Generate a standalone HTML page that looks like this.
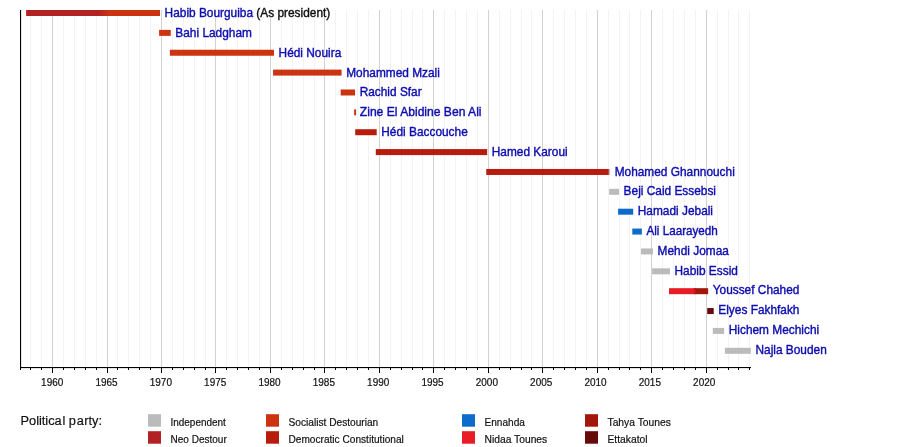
<!DOCTYPE html>
<html><head><meta charset="utf-8"><title>Timeline</title>
<style>
html,body{margin:0;padding:0;background:#fff;}
svg{display:block}
text{font-family:"Liberation Sans",sans-serif;}
.lbl{font-size:12.5px;fill:#0c0cb0;stroke:#0c0cb0;stroke-width:0.4px;}
.note{fill:#111;stroke:#111;}
.ax{font-size:10.6px;fill:#111;stroke:#111;stroke-width:0.2px;text-anchor:middle;}
.lg{font-size:11px;fill:#111;stroke:#111;stroke-width:0.2px;}
.ttl{font-size:13.3px;fill:#111;stroke:#111;stroke-width:0.2px;}
</style></head><body>
<svg width="900" height="447" viewBox="0 0 900 447">
<rect width="900" height="447" fill="#fff"/>
<g><rect x="30" y="10" width="1" height="357" fill="#f3f3f3"/>
<rect x="41" y="10" width="1" height="357" fill="#f3f3f3"/>
<rect x="52" y="10" width="1" height="357" fill="#d2d2d2"/>
<rect x="63" y="10" width="1" height="357" fill="#f3f3f3"/>
<rect x="74" y="10" width="1" height="357" fill="#f3f3f3"/>
<rect x="85" y="10" width="1" height="357" fill="#f3f3f3"/>
<rect x="96" y="10" width="1" height="357" fill="#f3f3f3"/>
<rect x="107" y="10" width="1" height="357" fill="#d2d2d2"/>
<rect x="117" y="10" width="1" height="357" fill="#f3f3f3"/>
<rect x="128" y="10" width="1" height="357" fill="#f3f3f3"/>
<rect x="139" y="10" width="1" height="357" fill="#f3f3f3"/>
<rect x="150" y="10" width="1" height="357" fill="#f3f3f3"/>
<rect x="161" y="10" width="1" height="357" fill="#d2d2d2"/>
<rect x="172" y="10" width="1" height="357" fill="#f3f3f3"/>
<rect x="183" y="10" width="1" height="357" fill="#f3f3f3"/>
<rect x="194" y="10" width="1" height="357" fill="#f3f3f3"/>
<rect x="205" y="10" width="1" height="357" fill="#f3f3f3"/>
<rect x="215" y="10" width="1" height="357" fill="#d2d2d2"/>
<rect x="226" y="10" width="1" height="357" fill="#f3f3f3"/>
<rect x="237" y="10" width="1" height="357" fill="#f3f3f3"/>
<rect x="248" y="10" width="1" height="357" fill="#f3f3f3"/>
<rect x="259" y="10" width="1" height="357" fill="#f3f3f3"/>
<rect x="270" y="10" width="1" height="357" fill="#d2d2d2"/>
<rect x="281" y="10" width="1" height="357" fill="#f3f3f3"/>
<rect x="292" y="10" width="1" height="357" fill="#f3f3f3"/>
<rect x="303" y="10" width="1" height="357" fill="#f3f3f3"/>
<rect x="314" y="10" width="1" height="357" fill="#f3f3f3"/>
<rect x="324" y="10" width="1" height="357" fill="#d2d2d2"/>
<rect x="335" y="10" width="1" height="357" fill="#f3f3f3"/>
<rect x="346" y="10" width="1" height="357" fill="#f3f3f3"/>
<rect x="357" y="10" width="1" height="357" fill="#f3f3f3"/>
<rect x="368" y="10" width="1" height="357" fill="#f3f3f3"/>
<rect x="379" y="10" width="1" height="357" fill="#d2d2d2"/>
<rect x="390" y="10" width="1" height="357" fill="#f3f3f3"/>
<rect x="401" y="10" width="1" height="357" fill="#f3f3f3"/>
<rect x="412" y="10" width="1" height="357" fill="#f3f3f3"/>
<rect x="422" y="10" width="1" height="357" fill="#f3f3f3"/>
<rect x="433" y="10" width="1" height="357" fill="#d2d2d2"/>
<rect x="444" y="10" width="1" height="357" fill="#f3f3f3"/>
<rect x="455" y="10" width="1" height="357" fill="#f3f3f3"/>
<rect x="466" y="10" width="1" height="357" fill="#f3f3f3"/>
<rect x="477" y="10" width="1" height="357" fill="#f3f3f3"/>
<rect x="488" y="10" width="1" height="357" fill="#d2d2d2"/>
<rect x="499" y="10" width="1" height="357" fill="#f3f3f3"/>
<rect x="510" y="10" width="1" height="357" fill="#f3f3f3"/>
<rect x="521" y="10" width="1" height="357" fill="#f3f3f3"/>
<rect x="531" y="10" width="1" height="357" fill="#f3f3f3"/>
<rect x="542" y="10" width="1" height="357" fill="#d2d2d2"/>
<rect x="553" y="10" width="1" height="357" fill="#f3f3f3"/>
<rect x="564" y="10" width="1" height="357" fill="#f3f3f3"/>
<rect x="575" y="10" width="1" height="357" fill="#f3f3f3"/>
<rect x="586" y="10" width="1" height="357" fill="#f3f3f3"/>
<rect x="597" y="10" width="1" height="357" fill="#d2d2d2"/>
<rect x="608" y="10" width="1" height="357" fill="#f3f3f3"/>
<rect x="619" y="10" width="1" height="357" fill="#f3f3f3"/>
<rect x="629" y="10" width="1" height="357" fill="#f3f3f3"/>
<rect x="640" y="10" width="1" height="357" fill="#f3f3f3"/>
<rect x="651" y="10" width="1" height="357" fill="#d2d2d2"/>
<rect x="662" y="10" width="1" height="357" fill="#f3f3f3"/>
<rect x="673" y="10" width="1" height="357" fill="#f3f3f3"/>
<rect x="684" y="10" width="1" height="357" fill="#f3f3f3"/>
<rect x="695" y="10" width="1" height="357" fill="#f3f3f3"/>
<rect x="706" y="10" width="1" height="357" fill="#d2d2d2"/>
<rect x="717" y="10" width="1" height="357" fill="#f3f3f3"/>
<rect x="728" y="10" width="1" height="357" fill="#f3f3f3"/>
<rect x="738" y="10" width="1" height="357" fill="#f3f3f3"/>
<rect x="749" y="10" width="1" height="357" fill="#f3f3f3"/></g>
<rect x="26.12" y="10.00" width="78.93" height="6.0" fill="#b22222"/>
<rect x="105.05" y="10.00" width="54.95" height="6.0" fill="#cc3311"/>
<text class="lbl" transform="translate(164.60,17.25) scale(0.95,1)">Habib Bourguiba<tspan class="note"> (As president)</tspan></text>
<rect x="159.10" y="29.87" width="11.65" height="6.0" fill="#cc3311"/>
<text class="lbl" transform="translate(175.35,37.05) scale(0.95,1)">Bahi Ladgham</text>
<rect x="169.85" y="49.74" width="104.11" height="6.0" fill="#cc3311"/>
<text class="lbl" transform="translate(278.56,56.85) scale(0.95,1)">Hédi Nouira</text>
<rect x="273.06" y="69.61" width="68.52" height="6.0" fill="#cc3311"/>
<text class="lbl" transform="translate(346.18,76.65) scale(0.95,1)">Mohammed Mzali</text>
<rect x="340.68" y="89.48" width="14.36" height="6.0" fill="#cc3311"/>
<text class="lbl" transform="translate(359.64,96.45) scale(0.95,1)">Rachid Sfar</text>
<rect x="354.14" y="109.35" width="1.97" height="6.0" fill="#cc3311"/>
<text class="lbl" transform="translate(359.82,116.25) scale(0.968,1)">Zine El Abidine Ben Ali</text>
<rect x="355.22" y="129.22" width="21.47" height="6.0" fill="#b81c0c"/>
<text class="lbl" transform="translate(381.29,136.05) scale(0.95,1)">Hédi Baccouche</text>
<rect x="375.79" y="149.09" width="111.38" height="6.0" fill="#b81c0c"/>
<text class="lbl" transform="translate(491.76,155.85) scale(0.95,1)">Hamed Karoui</text>
<rect x="486.26" y="168.96" width="122.60" height="6.0" fill="#b81c0c"/>
<rect x="608.87" y="168.96" width="1.19" height="6.0" fill="#bbbbbb"/>
<text class="lbl" transform="translate(614.66,175.65) scale(0.95,1)">Mohamed Ghannouchi</text>
<rect x="609.16" y="188.83" width="9.86" height="6.0" fill="#bbbbbb"/>
<text class="lbl" transform="translate(623.61,195.45) scale(0.95,1)">Beji Caid Essebsi</text>
<rect x="618.11" y="208.70" width="15.08" height="6.0" fill="#0d6bcc"/>
<text class="lbl" transform="translate(637.79,215.25) scale(0.95,1)">Hamadi Jebali</text>
<rect x="632.29" y="228.57" width="9.59" height="6.0" fill="#0d6bcc"/>
<text class="lbl" transform="translate(646.48,235.05) scale(0.934,1)">Ali Laarayedh</text>
<rect x="640.98" y="248.44" width="12.03" height="6.0" fill="#bbbbbb"/>
<text class="lbl" transform="translate(657.61,254.85) scale(0.95,1)">Mehdi Jomaa</text>
<rect x="652.11" y="268.31" width="17.84" height="6.0" fill="#bbbbbb"/>
<text class="lbl" transform="translate(674.55,274.65) scale(0.95,1)">Habib Essid</text>
<rect x="669.05" y="288.18" width="25.46" height="6.0" fill="#e81c24"/>
<rect x="694.51" y="288.18" width="13.61" height="6.0" fill="#a3160a"/>
<text class="lbl" transform="translate(712.71,294.45) scale(0.95,1)">Youssef Chahed</text>
<rect x="707.21" y="308.05" width="6.50" height="6.0" fill="#660a0a"/>
<text class="lbl" transform="translate(718.31,314.25) scale(0.95,1)">Elyes Fakhfakh</text>
<rect x="712.81" y="327.92" width="11.34" height="6.0" fill="#bbbbbb"/>
<text class="lbl" transform="translate(728.75,334.05) scale(0.95,1)">Hichem Mechichi</text>
<rect x="724.86" y="347.79" width="26.00" height="6.0" fill="#bbbbbb"/>
<text class="lbl" transform="translate(755.46,353.85) scale(0.95,1)">Najla Bouden</text>
<defs><linearGradient id="g1"><stop offset="0" stop-color="#b22222"/><stop offset="1" stop-color="#cc3311"/></linearGradient><linearGradient id="g2"><stop offset="0" stop-color="#e81c24"/><stop offset="1" stop-color="#a3160a"/></linearGradient></defs>
<rect x="99" y="10.0" width="10.5" height="6.0" fill="url(#g1)"/>
<rect x="693.2" y="288.18" width="3.2" height="6.0" fill="url(#g2)"/>
<rect x="20" y="10" width="1.1" height="358.1" fill="#000"/>
<rect x="20" y="367" width="731" height="1.1" fill="#000"/>
<rect x="20" y="367" width="1" height="3" fill="#000"/>
<rect x="30" y="367" width="1" height="3" fill="#000"/>
<rect x="41" y="367" width="1" height="3" fill="#000"/>
<rect x="52" y="367" width="1" height="6" fill="#000"/><text class="ax" transform="translate(52.19,386.1) scale(0.942,1)">1960</text>
<rect x="63" y="367" width="1" height="3" fill="#000"/>
<rect x="74" y="367" width="1" height="3" fill="#000"/>
<rect x="85" y="367" width="1" height="3" fill="#000"/>
<rect x="96" y="367" width="1" height="3" fill="#000"/>
<rect x="107" y="367" width="1" height="6" fill="#000"/><text class="ax" transform="translate(106.52,386.1) scale(0.942,1)">1965</text>
<rect x="117" y="367" width="1" height="3" fill="#000"/>
<rect x="128" y="367" width="1" height="3" fill="#000"/>
<rect x="139" y="367" width="1" height="3" fill="#000"/>
<rect x="150" y="367" width="1" height="3" fill="#000"/>
<rect x="161" y="367" width="1" height="6" fill="#000"/><text class="ax" transform="translate(160.85,386.1) scale(0.942,1)">1970</text>
<rect x="172" y="367" width="1" height="3" fill="#000"/>
<rect x="183" y="367" width="1" height="3" fill="#000"/>
<rect x="194" y="367" width="1" height="3" fill="#000"/>
<rect x="205" y="367" width="1" height="3" fill="#000"/>
<rect x="215" y="367" width="1" height="6" fill="#000"/><text class="ax" transform="translate(215.18,386.1) scale(0.942,1)">1975</text>
<rect x="226" y="367" width="1" height="3" fill="#000"/>
<rect x="237" y="367" width="1" height="3" fill="#000"/>
<rect x="248" y="367" width="1" height="3" fill="#000"/>
<rect x="259" y="367" width="1" height="3" fill="#000"/>
<rect x="270" y="367" width="1" height="6" fill="#000"/><text class="ax" transform="translate(269.52,386.1) scale(0.942,1)">1980</text>
<rect x="281" y="367" width="1" height="3" fill="#000"/>
<rect x="292" y="367" width="1" height="3" fill="#000"/>
<rect x="303" y="367" width="1" height="3" fill="#000"/>
<rect x="314" y="367" width="1" height="3" fill="#000"/>
<rect x="324" y="367" width="1" height="6" fill="#000"/><text class="ax" transform="translate(323.85,386.1) scale(0.942,1)">1985</text>
<rect x="335" y="367" width="1" height="3" fill="#000"/>
<rect x="346" y="367" width="1" height="3" fill="#000"/>
<rect x="357" y="367" width="1" height="3" fill="#000"/>
<rect x="368" y="367" width="1" height="3" fill="#000"/>
<rect x="379" y="367" width="1" height="6" fill="#000"/><text class="ax" transform="translate(378.18,386.1) scale(0.942,1)">1990</text>
<rect x="390" y="367" width="1" height="3" fill="#000"/>
<rect x="401" y="367" width="1" height="3" fill="#000"/>
<rect x="412" y="367" width="1" height="3" fill="#000"/>
<rect x="422" y="367" width="1" height="3" fill="#000"/>
<rect x="433" y="367" width="1" height="6" fill="#000"/><text class="ax" transform="translate(432.51,386.1) scale(0.942,1)">1995</text>
<rect x="444" y="367" width="1" height="3" fill="#000"/>
<rect x="455" y="367" width="1" height="3" fill="#000"/>
<rect x="466" y="367" width="1" height="3" fill="#000"/>
<rect x="477" y="367" width="1" height="3" fill="#000"/>
<rect x="488" y="367" width="1" height="6" fill="#000"/><text class="ax" transform="translate(486.85,386.1) scale(0.942,1)">2000</text>
<rect x="499" y="367" width="1" height="3" fill="#000"/>
<rect x="510" y="367" width="1" height="3" fill="#000"/>
<rect x="521" y="367" width="1" height="3" fill="#000"/>
<rect x="531" y="367" width="1" height="3" fill="#000"/>
<rect x="542" y="367" width="1" height="6" fill="#000"/><text class="ax" transform="translate(541.18,386.1) scale(0.942,1)">2005</text>
<rect x="553" y="367" width="1" height="3" fill="#000"/>
<rect x="564" y="367" width="1" height="3" fill="#000"/>
<rect x="575" y="367" width="1" height="3" fill="#000"/>
<rect x="586" y="367" width="1" height="3" fill="#000"/>
<rect x="597" y="367" width="1" height="6" fill="#000"/><text class="ax" transform="translate(595.51,386.1) scale(0.942,1)">2010</text>
<rect x="608" y="367" width="1" height="3" fill="#000"/>
<rect x="619" y="367" width="1" height="3" fill="#000"/>
<rect x="629" y="367" width="1" height="3" fill="#000"/>
<rect x="640" y="367" width="1" height="3" fill="#000"/>
<rect x="651" y="367" width="1" height="6" fill="#000"/><text class="ax" transform="translate(649.85,386.1) scale(0.942,1)">2015</text>
<rect x="662" y="367" width="1" height="3" fill="#000"/>
<rect x="673" y="367" width="1" height="3" fill="#000"/>
<rect x="684" y="367" width="1" height="3" fill="#000"/>
<rect x="695" y="367" width="1" height="3" fill="#000"/>
<rect x="706" y="367" width="1" height="6" fill="#000"/><text class="ax" transform="translate(704.18,386.1) scale(0.942,1)">2020</text>
<rect x="717" y="367" width="1" height="3" fill="#000"/>
<rect x="728" y="367" width="1" height="3" fill="#000"/>
<rect x="738" y="367" width="1" height="3" fill="#000"/>
<rect x="749" y="367" width="1" height="3" fill="#000"/>
<text class="ttl" transform="translate(20.5,425.4) scale(0.962,1)">Politica<tspan dx="0.8">l</tspan> p<tspan dx="0.7">a</tspan><tspan dx="0.5">rty:</tspan></text>
<rect x="148" y="414.2" width="13" height="12.5" fill="#bbbbbb"/><text class="lg" transform="translate(170.5,426.3) scale(0.905,1)">Independent</text>
<rect x="148" y="431.2" width="13" height="12.5" fill="#b22222"/><text class="lg" transform="translate(170.5,443.3) scale(0.913,1)">Neo Destour</text>
<rect x="266" y="414.2" width="13" height="12.5" fill="#cc3311"/><text class="lg" transform="translate(288.5,426.3) scale(0.925,1)">Socialist Destourian</text>
<rect x="266" y="431.2" width="13" height="12.5" fill="#b81c0c"/><text class="lg" transform="translate(288.5,443.3) scale(0.921,1)">Democratic Constitutional</text>
<rect x="462" y="414.2" width="13" height="12.5" fill="#0d6bcc"/><text class="lg" transform="translate(484.5,426.3) scale(0.92,1)">Ennahda</text>
<rect x="462" y="431.2" width="13" height="12.5" fill="#e81c24"/><text class="lg" transform="translate(484.5,443.3) scale(0.937,1)">Nidaa Tounes</text>
<rect x="585" y="414.2" width="13" height="12.5" fill="#a3160a"/><text class="lg" transform="translate(607.5,426.3) scale(0.937,1)">Tahya Tounes</text>
<rect x="585" y="431.2" width="13" height="12.5" fill="#660a0a"/><text class="lg" transform="translate(607.5,443.3) scale(0.937,1)">Ettakatol</text>
</svg></body></html>
